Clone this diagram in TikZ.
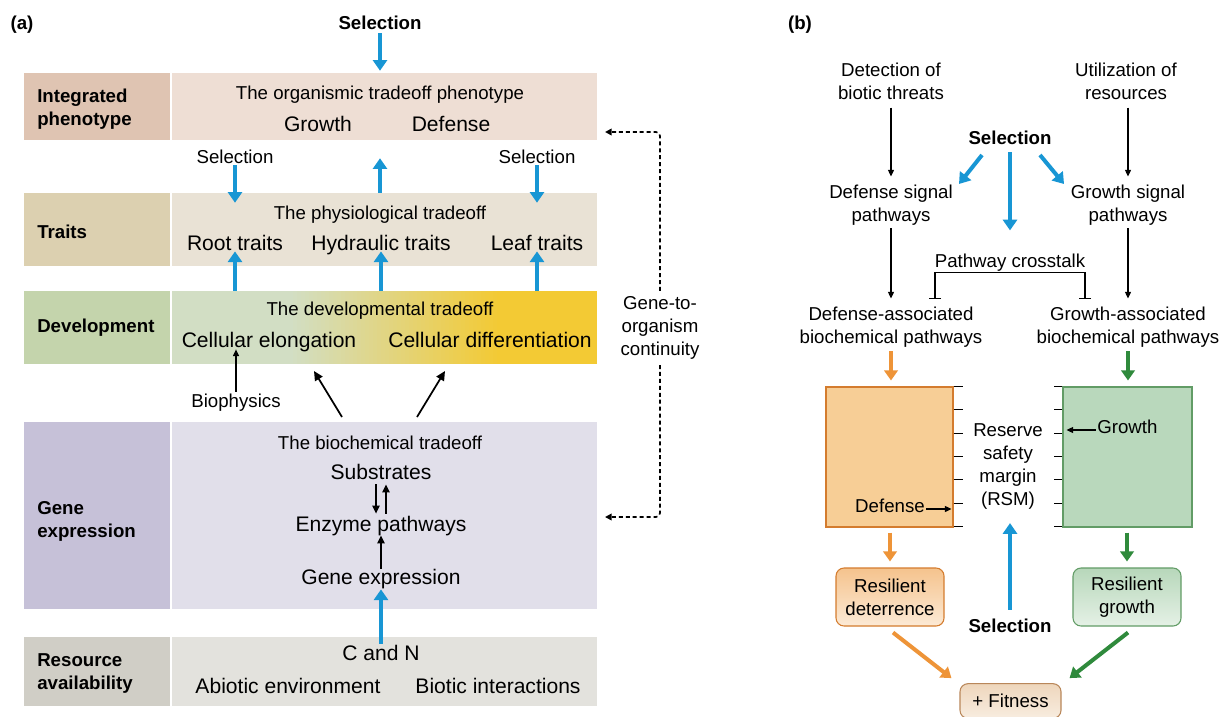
\documentclass[tikz,border=0pt]{standalone}
\usepackage{fontspec}
\setmainfont{Liberation Sans}
\usetikzlibrary{arrows.meta,fit,calc}

\definecolor{selblue}{RGB}{24,150,212}
\definecolor{arrorange}{RGB}{238,148,56}
\definecolor{arrgreen}{RGB}{47,138,60}
\definecolor{rlab1}{RGB}{223,196,178}
\definecolor{rcon1}{RGB}{238,222,212}
\definecolor{rlab2}{RGB}{220,208,176}
\definecolor{rcon2}{RGB}{233,226,213}
\definecolor{rlab3}{RGB}{196,212,172}
\definecolor{rgreen3}{RGB}{210,222,196}
\definecolor{ryellow3}{RGB}{243,202,52}
\definecolor{rlab4}{RGB}{198,193,216}
\definecolor{rcon4}{RGB}{225,223,234}
\definecolor{rlab5}{RGB}{208,206,198}
\definecolor{rcon5}{RGB}{227,226,221}
\definecolor{defbox}{RGB}{247,206,150}
\definecolor{defborder}{RGB}{212,124,46}
\definecolor{grobox}{RGB}{185,216,188}
\definecolor{groborder}{RGB}{98,156,102}
\definecolor{deftop}{RGB}{245,195,141}
\definecolor{defbot}{RGB}{252,234,214}
\definecolor{grotop}{RGB}{183,215,186}
\definecolor{grobot}{RGB}{229,241,230}
\definecolor{fittop}{RGB}{238,214,188}
\definecolor{fitbot}{RGB}{248,237,224}
\definecolor{fitborder}{RGB}{185,135,90}

\newcommand{\fsmain}{\fontsize{15.8}{18}\selectfont}
\newcommand{\fsnorm}{\fontsize{14}{17.25}\selectfont}

\tikzset{
  tx/.style={text height=0.72em, text depth=0.2em, yshift=-3pt},
  lab/.style={font=\fsnorm\bfseries, align=left, anchor=west},
  mtx/.style={font=\fsmain, tx},
  bluearr/.style={draw=selblue, line width=3pt, -{Triangle[length=8pt,width=10.5pt]}},
  orarr/.style={draw=arrorange, line width=3pt, -{Triangle[length=7.5pt,width=10pt]}},
  grarr/.style={draw=arrgreen, line width=3pt, -{Triangle[length=7.5pt,width=10pt]}},
  thinarr/.style={draw=black, line width=0.8pt, -{Triangle[length=5pt,width=4.5pt]}},
  midarr/.style={draw=black, line width=1.1pt, -{Triangle[length=6pt,width=5.5pt]}},
  diagarr/.style={draw=black, line width=1.3pt, -{Triangle[length=7pt,width=6.5pt]}},
  dotarr/.style={draw=black, line width=1.2pt, dash pattern=on 3pt off 2.2pt, rounded corners=3pt, -{Triangle[length=5pt,width=5pt]}},
  rbox/.style={align=center, rounded corners=6pt, line width=0.8pt, minimum width=81pt, minimum height=43.5pt},
}

\begin{document}
\begin{tikzpicture}[x=0.75pt,y=-0.75pt, every node/.style={inner sep=0pt, font=\fsnorm}]
\useasboundingbox[fill=white] (0,0) rectangle (1224,717);

%% ---------------- panel (a) ----------------
\node[font=\fsnorm\bfseries, tx] (pa) at (22,22) {(a)};
\node[font=\fsnorm\bfseries, tx] (selTop) at (380,22) {Selection};

% row backgrounds
\node[fit={(24,73)(170,140)}, fill=rlab1] (r1l) {};
\node[fit={(172,73)(597,140)}, fill=rcon1] (r1c) {};
\node[fit={(24,193)(170,266)}, fill=rlab2] (r2l) {};
\node[fit={(172,193)(597,266)}, fill=rcon2] (r2c) {};
\node[fit={(24,291)(170,364)}, fill=rlab3] (r3l) {};
\fill[rgreen3] (172,291) rectangle (597,364);
\fill[ryellow3] (500,291) rectangle (597,364);
\foreach \k in {0,...,52}{
  \pgfmathsetmacro{\p}{\k*100/52}
  \fill[ryellow3!\p!rgreen3] (289+\k*4,291) rectangle (294+\k*4,364);
}
\node[fit={(172,291)(597,364)}] (r3c) {};
\node[fit={(24,422)(170,609)}, fill=rlab4] (r4l) {};
\node[fit={(172,422)(597,609)}, fill=rcon4] (r4c) {};
\node[fit={(24,637)(170,706)}, fill=rlab5] (r5l) {};
\node[fit={(172,637)(597,706)}, fill=rcon5] (r5c) {};

% row labels
\node[lab] (l1) at (37,109.5) {Integrated\\phenotype};
\node[lab] (l2) at (37,232) {Traits};
\node[lab] (l3) at (37,328) {Development};
\node[lab] (l4) at (37,521.5) {Gene\\expression};
\node[lab] (l5) at (37,673.5) {Resource\\availability};

% row contents
\node[tx] (t1) at (380,92) {The organismic tradeoff phenotype};
\node[mtx] (growth1) at (318,124) {Growth};
\node[mtx] (defense1) at (451,124) {Defense};
\node[tx] (selL) at (235,156) {Selection};
\node[tx] (selR) at (537,156) {Selection};
\node[tx] (t2) at (380,212) {The physiological tradeoff};
\node[mtx] (root) at (235,243) {Root traits};
\node[mtx] (hyd) at (381,243) {Hydraulic traits};
\node[mtx] (leaf) at (537,243) {Leaf traits};
\node[tx] (t3) at (380,308) {The developmental tradeoff};
\node[mtx] (elong) at (269,340) {Cellular elongation};
\node[mtx] (diff) at (490,340) {Cellular differentiation};
\node[tx] (bio) at (236,400) {Biophysics};
\node[tx] (t4) at (380,442) {The biochemical tradeoff};
\node[mtx] (subs) at (381,472) {Substrates};
\node[mtx] (enz) at (381,524) {Enzyme pathways};
\node[mtx] (gexp) at (381,577) {Gene expression};
\node[mtx] (cn) at (381,653) {C and N};
\node[mtx] (abio) at (288,686) {Abiotic environment};
\node[mtx] (biot) at (498,686) {Biotic interactions};

% blue arrows
\draw[bluearr] ($(selTop.south)+(0,1)$) -- ($(selTop |- r1c.north)+(0,-2)$);
\draw[bluearr] ($(selL.south)+(0,-1)$) -- ($(selL |- r2c.north)+(0,10)$);
\draw[bluearr] ($(selR.south)+(0,-1)$) -- ($(selR |- r2c.north)+(0,10)$);
\draw[bluearr] (r2c.north -| t1) -- ($(r1c.south -| t1)+(0,18)$);
\draw[bluearr] (r3c.north -| root) -- ($(root.south)+(0,-2)$);
\draw[bluearr] (r3c.north -| hyd) -- ($(hyd.south)+(0,-2)$);
\draw[bluearr] (r3c.north -| leaf) -- ($(leaf.south)+(0,-2)$);
\draw[bluearr] ($(cn.north)+(0,-7)$) -- ($(gexp.south)+(0,2)$);

% black arrows
\draw[thinarr] ($(bio.north)+(0,-6)$) -- ($(bio |- elong.south)+(0,-1)$);
\coordinate (dA1) at (342,417);
\coordinate (dA2) at (314,371);
\coordinate (dB1) at (417,417);
\coordinate (dB2) at (445,371);
\draw[diagarr] (dA1) -- (dA2);
\draw[diagarr] (dB1) -- (dB2);
\draw[midarr] ($(subs.south)+(-5,2)$) -- ($(enz.north)+(-5,-8)$);
\draw[midarr] ($(enz.north)+(5,-8)$) -- ($(subs.south)+(5,2)$);
\draw[midarr] ($(gexp.north)+(0,-6)$) -- ($(enz.south)+(0,1)$);

% gene-to-organism continuity
\node[align=center] (gto) at (660,328) {Gene-to-\\organism\\continuity};
\coordinate (tipA) at (605,132);
\coordinate (tipB) at (605,517);
\draw[dotarr, shorten <=4pt] (gto.north) |- (tipA);
\draw[dotarr, shorten <=4pt] (gto.south) |- (tipB);

%% ---------------- panel (b) ----------------
\node[font=\fsnorm\bfseries, tx] (pb) at (800,22) {(b)};
\node[align=center] (det) at (891,81) {Detection of\\biotic threats};
\node[align=center] (util) at (1126,81) {Utilization of\\resources};
\node[font=\fsnorm\bfseries, tx] (selB) at (1010,137) {Selection};
\node[align=center] (dsig) at (891,205) {Defense signal\\pathways};
\node[align=center] (gsig) at (1128,205) {Growth signal\\pathways};
\node[tx] (cross) at (1010,260) {Pathway crosstalk};
\node[align=center] (dbio) at (891,327) {Defense-associated\\biochemical pathways};
\node[align=center] (gbio) at (1128,327) {Growth-associated\\biochemical pathways};

\draw[thinarr] ($(det.south)+(0,8)$) -- ($(dsig.north)+(0,-8)$);
\draw[thinarr] ($(util.south -| gsig)+(0,8)$) -- ($(gsig.north)+(0,-8)$);
\draw[thinarr] ($(dsig.south)+(0,3)$) -- ($(dbio.north)+(0,-8)$);
\draw[thinarr] ($(gsig.south)+(0,3)$) -- ($(gbio.north)+(0,-8)$);

\coordinate (sb1) at (982,155);
\coordinate (sb2) at (959,184);
\coordinate (sb3) at (1040,155);
\coordinate (sb4) at (1064,184);
\draw[bluearr] (sb1) -- (sb2);
\draw[bluearr] (sb3) -- (sb4);
\draw[bluearr] ($(selB.south)+(0,5)$) -- ($(selB.south)+(0,83)$);

\coordinate (tL) at (935,299);
\coordinate (tR) at (1085,299);
\draw[line width=0.9pt, {Bar[width=9pt]}-{Bar[width=9pt]}] (tL) |- ($(cross.south)+(0,2)$) -| (tR);

% reserve safety margin
\node[fit={(826,387)(953,527)}, fill=defbox, draw=defborder, line width=0.8pt] (dbox) {};
\node[fit={(1063,387)(1192,527)}, fill=grobox, draw=groborder, line width=0.8pt] (gbox) {};
\foreach \i in {0,...,6}{
  \draw[line width=0.75pt] ($(dbox.north east)+(0,\i*23.33)$) -- ++(9,0);
  \draw[line width=0.75pt] ($(gbox.north west)+(0,\i*23.33)$) -- ++(-8,0);
}
\node[align=center] (rsm) at (1008,467) {Reserve\\safety\\margin\\(RSM)};
\node[tx, anchor=west] (grlab) at (1097,426) {Growth};
\draw[thinarr, shorten <=1pt] (grlab.west) -- ($(gbox.west |- grlab)+(4,0)$);
\node[tx, anchor=east] (delab) at (925,505) {Defense};
\draw[thinarr, shorten <=1pt] (delab.east) -- ($(dbox.east |- delab)+(-2,0)$);

\draw[orarr] ($(dbio.south)+(0,4)$) -- ($(dbio.south)+(0,33)$);
\draw[grarr] ($(gbio.south)+(0,4)$) -- ($(gbio.south)+(0,33)$);

\node[rbox, draw=defborder, top color=deftop, bottom color=defbot] (resD) at (890,597) {Resilient\\deterrence};
\node[rbox, draw=groborder, top color=grotop, bottom color=grobot] (resG) at (1127,597) {Resilient\\growth};
\draw[orarr] ($(dbox.south -| resD)+(0,5)$) -- ($(resD.north)+(0,-6)$);
\draw[grarr] ($(gbox.south -| resG)+(0,5)$) -- ($(resG.north)+(0,-6)$);

\node[font=\fsnorm\bfseries, tx] (selB2) at (1010,625) {Selection};
\draw[bluearr] ($(selB2.north)+(0,-13)$) -- ($(selB2 |- rsm.south)+(0,13)$);

\node[align=center, rounded corners=6pt, line width=0.8pt, draw=fitborder, top color=fittop, bottom color=fitbot, minimum width=75.75pt, minimum height=26pt] (fit) at (1010.5,701) {+ Fitness};
\draw[orarr] ($(resD.south)+(3,6)$) -- ($(fit.north west)+(-8,-5)$);
\draw[grarr] ($(resG.south)+(1,6)$) -- ($(fit.north east)+(8,-5)$);
\end{tikzpicture}
\end{document}
